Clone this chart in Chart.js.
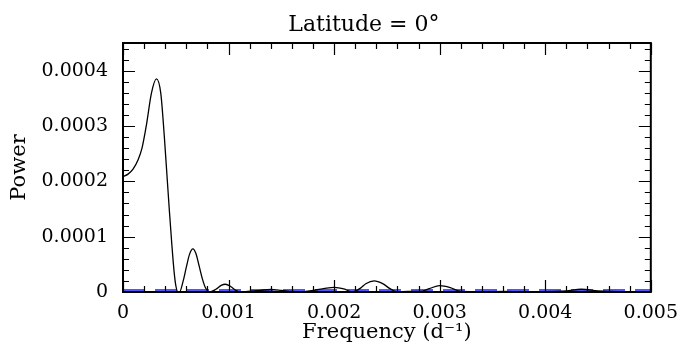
<!DOCTYPE html>
<html>
<head>
<meta charset="utf-8">
<script src="https://cdn.jsdelivr.net/npm/chart.js@4.4.1/dist/chart.umd.min.js"></script>
<style>
  html, body { margin: 0; padding: 0; background: #fff; }
  #wrap { width: 680px; height: 359px; }
</style>
</head>
<body>
<div id="wrap"><canvas id="powerChart"></canvas></div>
<script>
'use strict';

// frequency (d^-1) and power
var freq = [0, 0.0000475, 0.000095, 0.000143, 0.00018, 0.000222, 0.000269, 0.000317, 0.000358, 0.00039,
  0.000415, 0.00044, 0.000463, 0.000485, 0.0005, 0.00052, 0.000535, 0.00057, 0.0006, 0.00063,
  0.000662, 0.00069, 0.00072, 0.00075, 0.00078, 0.00082, 0.00088, 0.00093, 0.00097, 0.00102,
  0.00107, 0.00111, 0.00118, 0.0013, 0.0014, 0.0015, 0.0016, 0.00168, 0.00175, 0.0019,
  0.002, 0.0021, 0.00217, 0.00225, 0.0023, 0.00238, 0.00246, 0.00253, 0.00259, 0.0027,
  0.00282, 0.0029, 0.003, 0.0031, 0.0032, 0.0034, 0.0036, 0.0038, 0.004, 0.0042,
  0.00434, 0.0045, 0.0047, 0.005];
var power = [2.085e-4, 2.13e-4, 2.22e-4, 2.39e-4, 2.6e-4, 3.02e-4, 3.59e-4, 3.85e-4, 3.59e-4, 2.85e-4,
  2.15e-4, 1.45e-4, 0.85e-4, 0.35e-4, 0.12e-4, 0, 0, 0.2e-4, 0.45e-4, 0.68e-4,
  0.78e-4, 0.7e-4, 0.48e-4, 0.25e-4, 0.08e-4, 0, 0.05e-4, 0.12e-4, 0.14e-4, 0.1e-4,
  0.03e-4, 0, 0.01e-4, 0.03e-4, 0.045e-4, 0.03e-4, 0.01e-4, 0.005e-4, 0.015e-4, 0.06e-4,
  0.085e-4, 0.05e-4, 0, 0.07e-4, 0.15e-4, 0.2e-4, 0.15e-4, 0.06e-4, 0.005e-4, 0.01e-4,
  0.01e-4, 0.06e-4, 0.115e-4, 0.08e-4, 0.01e-4, 0.005e-4, 0.01e-4, 0.005e-4, 0.005e-4, 0.02e-4,
  0.05e-4, 0.02e-4, 0.005e-4, 0.005e-4];

// blue dashed level
var levelFreq = [0, 0.005];
var levelPower = [0.035e-4, 0.035e-4];

var xTicks = [0, 0.001, 0.002, 0.003, 0.004, 0.005];
var xTickLabels = ['0', '0.001', '0.002', '0.003', '0.004', '0.005'];
var yTicks = [0, 0.0001, 0.0002, 0.0003, 0.0004];
var yTickLabels = ['0', '0.0001', '0.0002', '0.0003', '0.0004'];

var xMinorStep = 0.0002;
var yMinorStep = 0.00002;

var serif = '"DejaVu Serif", "Liberation Serif", serif';

function toPoints(xs, ys) {
	var pts = [];
	for (var i = 0; i < xs.length; i++) pts.push({ x: xs[i], y: ys[i] });
	return pts;
}

// frame, inward ticks on all four sides, title
var framePlugin = {
	id: 'frame',
	afterDatasetsDraw: function (chart) {
		var ctx = chart.ctx;
		var a = chart.chartArea;
		var xs = chart.scales.x, ys = chart.scales.y;
		ctx.save();
		ctx.strokeStyle = '#000';
		ctx.lineWidth = 1.2;
		ctx.beginPath();
		var v, px, major;
		for (v = xs.min; v <= xs.max + 1e-12; v += xMinorStep) {
			px = Math.round(xs.getPixelForValue(v)) + 0.5;
			major = Math.abs(v / 0.001 - Math.round(v / 0.001)) < 1e-6;
			var lx = major ? 12 : 6;
			ctx.moveTo(px, a.bottom); ctx.lineTo(px, a.bottom - lx);
			ctx.moveTo(px, a.top); ctx.lineTo(px, a.top + lx);
		}
		for (v = ys.min; v <= ys.max + 1e-12; v += yMinorStep) {
			px = Math.round(ys.getPixelForValue(v)) + 0.5;
			major = Math.abs(v / 0.0001 - Math.round(v / 0.0001)) < 1e-6;
			var ly = major ? 12 : 6;
			ctx.moveTo(a.left, px); ctx.lineTo(a.left + ly, px);
			ctx.moveTo(a.right, px); ctx.lineTo(a.right - ly, px);
		}
		ctx.stroke();
		ctx.lineWidth = 2;
		ctx.strokeRect(a.left, a.top, a.right - a.left, a.bottom - a.top);

		ctx.fillStyle = '#000';
		ctx.font = '22px ' + serif;
		ctx.textAlign = 'center';
		ctx.textBaseline = 'alphabetic';
		ctx.fillText('Latitude = 0°', (a.left + a.right) / 2 - 23, 31);
		ctx.restore();
	}
};

var chartConfig = {
	type: 'line',
	data: {
		datasets: [{
			label: 'Power',
			data: toPoints(freq, power),
			borderColor: '#000',
			borderWidth: 1.3,
			pointRadius: 0,
			fill: false,
			cubicInterpolationMode: 'monotone'
		}, {
			label: 'Level',
			data: toPoints(levelFreq, levelPower),
			borderColor: '#5555ff',
			borderWidth: 2,
			borderDash: [22, 10],
			pointRadius: 0,
			fill: false
		}]
	},
	options: {
		responsive: true,
		maintainAspectRatio: false,
		animation: false,
		layout: { padding: { left: 0, right: 29, top: 43, bottom: 0 } },
		plugins: {
			legend: { display: false },
			tooltip: { enabled: false },
			title: { display: false }
		},
		scales: {
			x: {
				type: 'linear',
				min: 0,
				max: 0.005,
				grid: { display: false },
				border: { display: false },
				afterFit: function (s) { s.height = 67; },
				afterBuildTicks: function (s) {
					s.ticks = xTicks.map(function (v) { return { value: v }; });
				},
				ticks: {
					color: '#000',
					font: { family: serif, size: 19 },
					padding: 2,
					maxRotation: 0,
					autoSkip: false,
					callback: function (val) {
						var i = xTicks.indexOf(val);
						return i >= 0 ? xTickLabels[i] : '';
					}
				},
				title: {
					display: true,
					text: 'Frequency (d⁻¹)',
					color: '#000',
					font: { family: serif, size: 21 },
					padding: { top: 0, bottom: 14 }
				}
			},
			y: {
				type: 'linear',
				min: 0,
				max: 0.00045,
				grid: { display: false },
				border: { display: false },
				afterFit: function (s) { s.width = 123; },
				afterBuildTicks: function (s) {
					s.ticks = yTicks.map(function (v) { return { value: v }; });
				},
				ticks: {
					color: '#000',
					font: { family: serif, size: 19 },
					padding: 7,
					autoSkip: false,
					callback: function (val) {
						var i = yTicks.indexOf(val);
						return i >= 0 ? yTickLabels[i] : '';
					}
				},
				title: {
					display: true,
					text: 'Power',
					color: '#000',
					font: { family: serif, size: 21 },
					padding: { top: 7, bottom: 0 }
				}
			}
		}
	},
	plugins: [framePlugin]
};

var powerChart = new Chart(document.getElementById('powerChart').getContext('2d'), chartConfig);
</script>
</body>
</html>
